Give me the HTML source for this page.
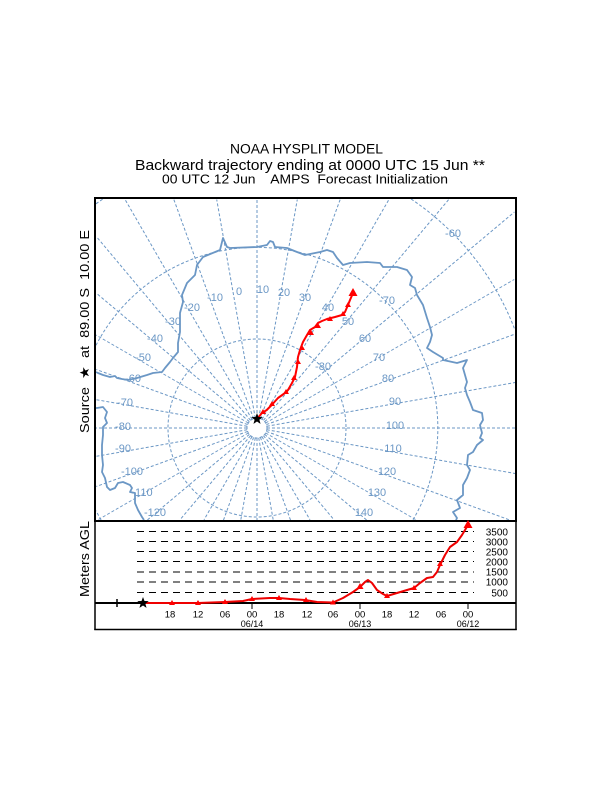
<!DOCTYPE html>
<html><head><meta charset="utf-8"><style>
html,body{margin:0;padding:0;background:#fff;width:612px;height:792px;overflow:hidden}
svg{display:block;position:absolute;left:0;top:0}
text{font-family:"Liberation Sans",Arial,sans-serif}
</style></head><body>
<svg width="612" height="792" viewBox="0 0 612 792" xmlns="http://www.w3.org/2000/svg" overflow="hidden">
<rect width="612" height="792" fill="#fff"/>
<defs><clipPath id="mc"><rect x="96" y="199" width="419" height="321"/></clipPath></defs>

<!-- titles -->
<text x="230" y="153.3" font-size="13.5" textLength="153" lengthAdjust="spacingAndGlyphs">NOAA HYSPLIT MODEL</text>
<text x="135" y="170" font-size="15" textLength="350" lengthAdjust="spacingAndGlyphs">Backward trajectory ending at 0000 UTC 15 Jun **</text>
<text x="162" y="183.3" font-size="12.5" textLength="286" lengthAdjust="spacingAndGlyphs" style="white-space:pre">00 UTC 12 Jun    AMPS  Forecast Initialization</text>

<!-- side labels -->
<text transform="translate(89,433) rotate(-90)" font-size="13" textLength="203" lengthAdjust="spacingAndGlyphs" style="white-space:pre">Source  ★  at  89.00 S  10.00 E</text>
<text transform="translate(89,597) rotate(-90)" font-size="13" textLength="76" lengthAdjust="spacingAndGlyphs">Meters AGL</text>

<!-- map -->
<g clip-path="url(#mc)" fill="none" stroke="#6b97c5" stroke-width="1">
 <g transform="translate(257,428)" stroke-dasharray="3 2">
  <line x1="10" y1="0" x2="258" y2="0" transform="rotate(0)"/>
  <line x1="10" y1="0" x2="262" y2="0" transform="rotate(10)"/>
  <line x1="10" y1="0" x2="269" y2="0" transform="rotate(20)"/>
  <line x1="10" y1="0" x2="184" y2="0" transform="rotate(30)"/>
  <line x1="10" y1="0" x2="143" y2="0" transform="rotate(40)"/>
  <line x1="10" y1="0" x2="120" y2="0" transform="rotate(50)"/>
  <line x1="10" y1="0" x2="106" y2="0" transform="rotate(60)"/>
  <line x1="10" y1="0" x2="98" y2="0" transform="rotate(70)"/>
  <line x1="10" y1="0" x2="93" y2="0" transform="rotate(80)"/>
  <line x1="10" y1="0" x2="92" y2="0" transform="rotate(90)"/>
  <line x1="10" y1="0" x2="93" y2="0" transform="rotate(100)"/>
  <line x1="10" y1="0" x2="98" y2="0" transform="rotate(110)"/>
  <line x1="10" y1="0" x2="106" y2="0" transform="rotate(120)"/>
  <line x1="10" y1="0" x2="120" y2="0" transform="rotate(130)"/>
  <line x1="10" y1="0" x2="143" y2="0" transform="rotate(140)"/>
  <line x1="10" y1="0" x2="184" y2="0" transform="rotate(150)"/>
  <line x1="10" y1="0" x2="171" y2="0" transform="rotate(160)"/>
  <line x1="10" y1="0" x2="163" y2="0" transform="rotate(170)"/>
  <line x1="10" y1="0" x2="161" y2="0" transform="rotate(180)"/>
  <line x1="10" y1="0" x2="163" y2="0" transform="rotate(190)"/>
  <line x1="10" y1="0" x2="171" y2="0" transform="rotate(200)"/>
  <line x1="10" y1="0" x2="186" y2="0" transform="rotate(210)"/>
  <line x1="10" y1="0" x2="210" y2="0" transform="rotate(220)"/>
  <line x1="10" y1="0" x2="250" y2="0" transform="rotate(230)"/>
  <line x1="10" y1="0" x2="264" y2="0" transform="rotate(240)"/>
  <line x1="10" y1="0" x2="243" y2="0" transform="rotate(250)"/>
  <line x1="10" y1="0" x2="232" y2="0" transform="rotate(260)"/>
  <line x1="10" y1="0" x2="229" y2="0" transform="rotate(270)"/>
  <line x1="10" y1="0" x2="232" y2="0" transform="rotate(280)"/>
  <line x1="10" y1="0" x2="243" y2="0" transform="rotate(290)"/>
  <line x1="10" y1="0" x2="264" y2="0" transform="rotate(300)"/>
  <line x1="10" y1="0" x2="299" y2="0" transform="rotate(310)"/>
  <line x1="10" y1="0" x2="336" y2="0" transform="rotate(320)"/>
  <line x1="10" y1="0" x2="297" y2="0" transform="rotate(330)"/>
  <line x1="10" y1="0" x2="274" y2="0" transform="rotate(340)"/>
  <line x1="10" y1="0" x2="262" y2="0" transform="rotate(350)"/>
  <circle cx="0" cy="0" r="10"/>
  <circle cx="0" cy="0" r="89"/>
 </g>
 <g stroke-dasharray="3 2">
  <path d="M96,345.3 A181,181 0 1 1 412.9,520"/>
  <path d="M101.1,520 A181,181 0 0 1 96,510.7"/>
  <path d="M96,203.8 A276,276 0 0 1 102.9,199"/>
  <path d="M411.1,199 A276,276 0 0 1 515,330"/>
 </g>
 <!-- coastline -->
 <g stroke-width="1.8" stroke-linejoin="round">
  <polyline points="96,408 97,408 103,407 107,412 105,418 107,423 103,427 103,435 102,445 102,455 103,465 102,472 105,478 107,487 110,490 115,488 118,483 123,482 130,485 132,488 130,492 135,493 135,503 138,510 142,517 144,520"/>
  <polyline points="96,372 98,373 103,375 110,377 115,376 117,378 122,379 128,380 137,378 147,375 153,373 162,372 165,368 170,362 173,358 178,352 178,343 180,332 180,313 183,302 182,295 187,283 195,275 197,265 203,257 220,250 223,238 227,247 230,248 257,247 267,245 270,241 273,242 275,247 287,248 297,252 305,255 320,252 327,250 333,252 337,258 343,265 350,263 367,262 380,263 383,267 390,267 397,267 407,270 412,277 410,285 415,288 417,295 423,305 427,318 430,327 432,335 430,342 427,348 433,352 443,358 443,360 457,363 467,360 463,368 467,382 465,388 467,395 470,402 473,410 482,413 483,420 480,425 482,433 480,438 483,440 477,445 473,452 468,455 467,465 470,470 467,478 463,485 463,495 457,500 460,508 453,512 457,518 456,520"/>
 </g>
</g>

<!-- map labels -->
<g fill="#6b97c5" font-size="11" text-anchor="middle">
 <text x="215" y="301">-10</text>
 <text x="239" y="295">0</text>
 <text x="263" y="293">10</text>
 <text x="284" y="296">20</text>
 <text x="305" y="301">30</text>
 <text x="328" y="311">40</text>
 <text x="348" y="325">50</text>
 <text x="365" y="342">60</text>
 <text x="379" y="361">70</text>
 <text x="388" y="382">80</text>
 <text x="395" y="405">90</text>
 <text x="395" y="429">100</text>
 <text x="393" y="452">110</text>
 <text x="387" y="475">120</text>
 <text x="377" y="496">130</text>
 <text x="364" y="516">140</text>
 <text x="192" y="311">-20</text>
 <text x="173" y="325">-30</text>
 <text x="155" y="342">-40</text>
 <text x="143" y="361">-50</text>
 <text x="133" y="382">-60</text>
 <text x="125" y="406">-70</text>
 <text x="123" y="430">-80</text>
 <text x="123" y="452">-90</text>
 <text x="132" y="475">-100</text>
 <text x="142" y="496">-110</text>
 <text x="155" y="516">-120</text>
 <text x="323" y="370">-80</text>
 <text x="387" y="304">-70</text>
 <text x="453" y="237">-60</text>
</g>

<!-- trajectory on map -->
<polyline fill="none" stroke="#f00" stroke-width="2" stroke-linejoin="round" points="257,419 261.7,413.3 266.7,410 271.7,405 278,398 285,393 288,390 292,383 295,377 297,367 298,357 300,350 303,342 307,335 310,330 315,327 318,323 322,321 327,319 335,317 342,315 345,312 348,305 350,300 353,293"/>
<g fill="#f00">
 <polygon points="263,409 266,414 260,414"/>
 <polygon points="272,401 275,406 269,406"/>
 <polygon points="286,389 289,394 283,394"/>
 <polygon points="294,375 297,380 291,380"/>
 <polygon points="298,359 301,364 295,364"/>
 <polygon points="302,345 305,350 299,350"/>
 <polygon points="311,330 314,335 308,335"/>
 <polygon points="318,323 321,328 315,328"/>
 <polygon points="330,316 333,321 327,321"/>
 <polygon points="343,311 346,316 340,316"/>
 <polygon points="348,302 351,307 345,307"/>
 <polygon points="353,288 357.5,296 348.5,296"/>
</g>
<polygon fill="#000" transform="translate(257,419)" points="0,-6 1.47,-2.02 5.71,-1.85 2.38,0.77 3.53,4.85 0,2.5 -3.53,4.85 -2.38,0.77 -5.71,-1.85 -1.47,-2.02"/>

<!-- frames -->
<rect x="95" y="198" width="421" height="323" fill="none" stroke="#000" stroke-width="2"/>
<line x1="95" y1="521" x2="95" y2="630" stroke="#000" stroke-width="1.5"/>
<line x1="516" y1="521" x2="516" y2="630" stroke="#000" stroke-width="1.5"/>
<line x1="94.25" y1="629.5" x2="516.75" y2="629.5" stroke="#000" stroke-width="1.5"/>

<!-- height panel dashed lines -->
<g stroke="#000" stroke-width="1" stroke-dasharray="7 5">
 <line x1="137" y1="531.5" x2="474" y2="531.5"/>
 <line x1="137" y1="541.5" x2="474" y2="541.5"/>
 <line x1="137" y1="551.5" x2="474" y2="551.5"/>
 <line x1="137" y1="561.5" x2="474" y2="561.5"/>
 <line x1="137" y1="572" x2="474" y2="572"/>
 <line x1="137" y1="582" x2="474" y2="582"/>
 <line x1="137" y1="592.5" x2="474" y2="592.5"/>
</g>
<g font-size="10" text-anchor="end" fill="#000">
 <text x="508" y="535.5">3500</text>
 <text x="508" y="545.5">3000</text>
 <text x="508" y="555.5">2500</text>
 <text x="508" y="565.5">2000</text>
 <text x="508" y="575.5">1500</text>
 <text x="508" y="585.5">1000</text>
 <text x="508" y="596.5">500</text>
</g>

<!-- ground line -->
<line x1="95" y1="603" x2="516" y2="603" stroke="#000" stroke-width="2"/>
<line x1="117" y1="599" x2="117" y2="607" stroke="#000" stroke-width="1.5"/>
<g stroke="#000" stroke-width="1">
 <line x1="252" y1="603" x2="252" y2="609"/>
 <line x1="360" y1="603" x2="360" y2="609"/>
 <line x1="468" y1="603" x2="468" y2="609"/>
</g>

<!-- height trajectory -->
<polyline fill="none" stroke="#e00" stroke-width="2" stroke-linejoin="round" points="143,603 172,603 198,603 225,602 243,601 252,599 270,598 279,598 290,599 305,600 317,602 333,602.5 343,598 353,592 360,587 365,582 368,580 372,583 377,590 383,594 387,596 397,593 407,590 414,588 420,583 427,578 433,577 437,572 440,565 445,555 450,547 457,542 462,535 468,525"/>
<g fill="#f00">
 <polygon points="172,600 175,605 169,605"/>
 <polygon points="198,600 201,605 195,605"/>
 <polygon points="225,599 228,604 222,604"/>
 <polygon points="252,596 255,601 249,601"/>
 <polygon points="279,595 282,600 276,600"/>
 <polygon points="306,597 309,602 303,602"/>
 <polygon points="333,599.5 336,604.5 330,604.5"/>
 <polygon points="360,583 363.5,589 356.5,589"/>
 <polygon points="387,593 390,598 384,598"/>
 <polygon points="414,585 417,590 411,590"/>
 <polygon points="440,561 443,566 437,566"/>
 <polygon points="468,520 472.5,528 463.5,528"/>
</g>
<polygon fill="#000" transform="translate(143,603)" points="0,-6 1.47,-2.02 5.71,-1.85 2.38,0.77 3.53,4.85 0,2.5 -3.53,4.85 -2.38,0.77 -5.71,-1.85 -1.47,-2.02"/>

<!-- time labels -->
<g font-size="9.5" text-anchor="middle" fill="#000">
 <text x="170" y="617.5">18</text>
 <text x="198" y="617.5">12</text>
 <text x="225" y="617.5">06</text>
 <text x="252" y="617.5">00</text>
 <text x="279" y="617.5">18</text>
 <text x="307" y="617.5">12</text>
 <text x="333" y="617.5">06</text>
 <text x="360" y="617.5">00</text>
 <text x="387" y="617.5">18</text>
 <text x="414" y="617.5">12</text>
 <text x="441" y="617.5">06</text>
 <text x="468" y="617.5">00</text>
 <text x="252" y="627" font-size="9">06/14</text>
 <text x="360" y="627" font-size="9">06/13</text>
 <text x="468" y="627" font-size="9">06/12</text>
</g>
</svg>
</body></html>
